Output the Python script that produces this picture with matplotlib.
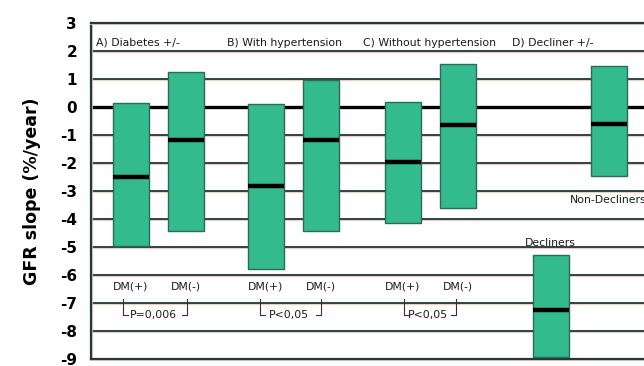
import matplotlib
matplotlib.use("Agg")
import matplotlib.pyplot as plt
import matplotlib.patheffects as pe

# Boxen: oberes Quartil, unteres Quartil, Median (GFR slope, %/year)
box_names = ["A DM(+)", "A DM(-)", "B DM(+)", "B DM(-)", "C DM(+)", "C DM(-)",
             "Decliners", "Non-Decliners"]
q_top = [0.14, 1.24, 0.10, 0.95, 0.18, 1.52, -5.3, 1.48]
q_bot = [-4.95, -4.42, -5.8, -4.42, -4.13, -3.6, -8.94, -2.47]
median = [-2.51, -1.17, -2.83, -1.17, -1.98, -0.64, -7.24, -0.6]

panel_labels = ["A) Diabetes +/-", "B) With hypertension",
                "C) Without hypertension", "D) Decliner +/-"]
dm_labels = ["DM(+)", "DM(-)"] * 3
p_values = ["P=0,006", "P<0,05", "P<0,05"]
y_ticks = list(range(3, -10, -1))

# Layout (x in Pixel-Einheiten ab linker Achse)
box_x = [40, 95, 174.5, 230, 312, 367, 459.5, 517.5]
box_w = 36
panel_x = [5, 136, 272, 421]
brackets = [(32, 96), (169, 230), (313, 365)]

box_col = "#33bb8e"
edge_col = "#2a6a58"
line_col = "#1f3a3d"
txt_col = "#1a1a1a"
halo = [pe.Stroke(linewidth=2.0, foreground="#f6c4ae"), pe.Normal()]

fig = plt.figure(figsize=(6.44, 3.66), dpi=100)
ax = fig.add_axes([91 / 644, 7 / 366, 579 / 644, 336 / 366])
ax.set_xlim(0, 579)
ax.set_ylim(-9, 3)

# Gitterlinien
for y in range(-8, 3):
    if y == 0:
        ax.axhline(0, color="black", lw=2.4, zorder=1)
    else:
        ax.axhline(y, color=line_col, lw=1.3, zorder=1, path_effects=halo)

for s in ax.spines.values():
    s.set_color(line_col)
    s.set_linewidth(1.6)
    s.set_path_effects(halo)

# Boxen
for x, t, b, m in zip(box_x, q_top, q_bot, median):
    ax.bar(x, t - b, bottom=b, width=box_w, color=box_col,
           edgecolor=edge_col, linewidth=1.0, zorder=3)
    ax.plot([x - box_w / 2, x + box_w / 2], [m, m], color="black",
            lw=3.2, zorder=4, solid_capstyle="butt")

fs = 7.8
for x, lab in zip(panel_x, panel_labels):
    ax.text(x, 2.3, lab, ha="left", va="center", zorder=5,
            fontsize=fs, color=txt_col)

for x, lab in zip(box_x[:6], dm_labels):
    ax.text(x, -6.42, lab, ha="center", va="center",
            fontsize=fs, color=txt_col, zorder=5)

for (xl, xr), p in zip(brackets, p_values):
    yt, yb = -6.87, -7.44
    ax.plot([xl, xl, xl + 5], [yt, yb, yb], color="#333333", lw=0.8, zorder=5)
    ax.plot([xr - 5, xr, xr], [yb, yb, yt], color="#333333", lw=0.8, zorder=5)
    ax.text((xl + xr) / 2 - 2, yb, p, ha="center", va="center",
            fontsize=fs, color=txt_col, zorder=5)

ax.text(box_x[6], -4.84, "Decliners", ha="center", va="center",
        fontsize=fs, color=txt_col, zorder=5)
ax.text(479, -3.31, "Non-Decliners", ha="left", va="center",
        fontsize=fs, color=txt_col, zorder=5)

ax.set_xticks([])
ax.set_yticks(y_ticks)
ax.set_yticklabels([str(v) for v in y_ticks], fontsize=11, fontweight="bold")
ax.tick_params(axis="y", length=0, pad=10)
ax.set_ylabel("GFR slope (%/year)", fontsize=12.5, fontweight="bold", labelpad=14)

fig.savefig("out.png", dpi=100)
